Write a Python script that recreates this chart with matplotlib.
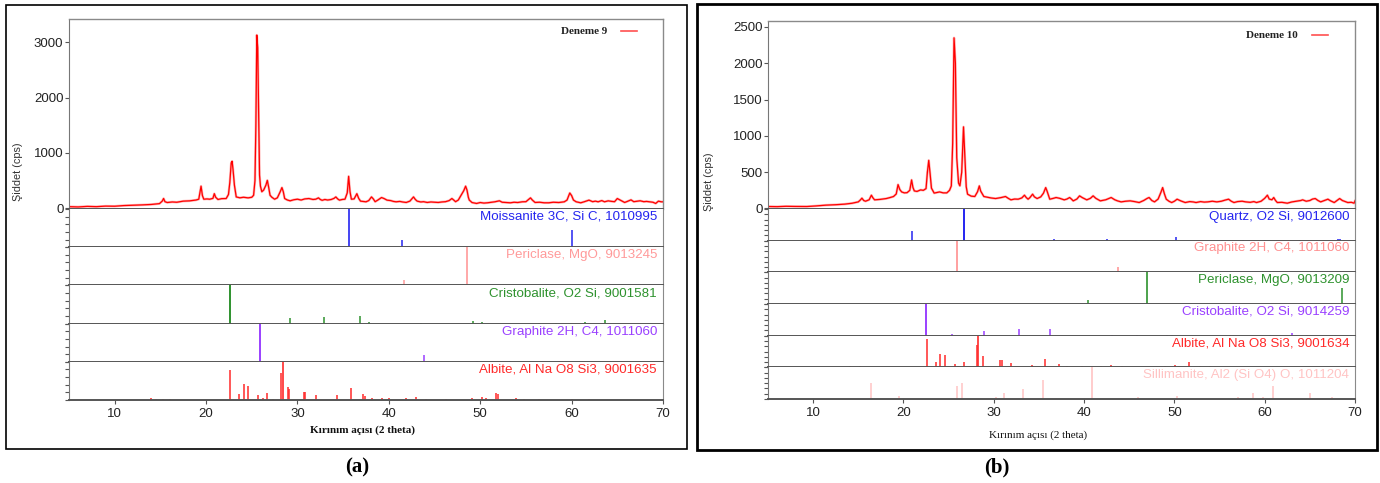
import matplotlib
matplotlib.use("Agg")
import matplotlib.pyplot as plt
from matplotlib.patches import Rectangle
from matplotlib.lines import Line2D

# ---- data ----
# (a) Deneme 9, measured pattern
tt_a = [5.0, 6.0, 7.0, 8.0, 9.0, 10.0, 11.0, 12.0, 13.0, 14.0, 14.9, 15.2, 15.35, 15.5, 15.75,
        16.3, 16.8, 17.5, 18.2, 18.9, 19.2, 19.35, 19.45, 19.6, 19.75, 20.1, 20.4, 20.75, 20.9,
        21.05, 21.3, 21.7, 22.2, 22.45, 22.6, 22.75, 22.85, 22.95, 23.1, 23.3, 23.7, 24.1, 24.6,
        25.0, 25.2, 25.35, 25.45, 25.55, 25.65, 25.75, 25.85, 25.95, 26.1, 26.3, 26.55, 26.7,
        26.85, 27.0, 27.2, 27.5, 27.8, 28.1, 28.3, 28.45, 28.6, 28.9, 29.2, 29.6, 30.0, 30.4,
        30.8, 31.25, 31.7, 32.0, 32.3, 32.5, 32.7, 33.0, 33.3, 33.7, 34.0, 34.2, 34.4, 34.6,
        34.9, 35.2, 35.45, 35.6, 35.75, 35.9, 36.2, 36.5, 36.7, 36.9, 37.2, 37.5, 37.8, 38.1,
        38.3, 38.5, 38.8, 39.2, 39.5, 39.8, 40.2, 40.5, 40.8, 41.2, 41.5, 41.9, 42.3, 42.7,
        42.9, 43.1, 43.5, 43.8, 44.2, 44.6, 45.0, 45.4, 45.8, 46.2, 46.6, 46.9, 47.1, 47.3,
        47.6, 47.9, 48.2, 48.4, 48.55, 48.7, 48.8, 49.1, 49.4, 49.6, 50.0, 50.4, 50.8, 51.2,
        51.6, 52.1, 52.4, 52.8, 53.3, 53.7, 54.1, 54.6, 55.0, 55.3, 55.5, 55.7, 56.0, 56.5,
        57.0, 57.5, 58.0, 58.6, 59.2, 59.5, 59.8, 60.0, 60.2, 60.5, 61.0, 61.4, 61.9, 62.3,
        62.6, 62.9, 63.3, 63.6, 64.0, 64.4, 64.7, 65.0, 65.3, 65.8, 66.1, 66.5, 66.8, 67.2,
        67.5, 67.9, 68.2, 68.5, 68.9, 69.2, 69.5, 69.8, 70.0]
int_a = [30, 25, 35, 30, 40, 38, 50, 55, 62, 70, 85, 130, 178, 120, 105,
         115, 110, 130, 135, 150, 165, 300, 400, 230, 165, 170, 165, 180, 265,
         200, 160, 175, 177, 250, 470, 820, 850, 700, 420, 206, 190, 200, 189,
         200, 236, 500, 1500, 3130, 2900, 1800, 600, 400, 300, 330, 420, 505,
         380, 236, 200, 165, 190, 295, 375, 300, 177, 150, 136, 155, 165, 150,
         170, 177, 160, 165, 189, 160, 145, 160, 150, 160, 180, 206, 170, 148,
         160, 165, 280, 578, 300, 165, 170, 265, 180, 130, 125, 118, 140, 206,
         170, 120, 150, 195, 175, 148, 140, 125, 118, 125, 115, 106, 130, 206,
         160, 130, 115, 120, 106, 115, 110, 106, 115, 120, 140, 177, 150, 120,
         150, 236, 320, 400, 330, 200, 150, 105, 95, 88, 105, 95, 100, 110,
         118, 136, 110, 105, 100, 110, 105, 118, 120, 160, 189, 150, 106, 110,
         100, 100, 110, 105, 118, 150, 277, 230, 150, 118, 100, 120, 148, 120,
         130, 118, 140, 118, 135, 125, 120, 177, 150, 106, 125, 153, 120, 130,
         136, 120, 125, 118, 110, 88, 130, 118, 118]

# (b) Deneme 10, measured pattern
tt_b = [5.1, 6.0, 7.0, 8.0, 9.3, 10.3, 11.4, 12.5, 13.5, 14.3, 15.0, 15.25, 15.4, 15.6, 15.8,
        16.2, 16.45, 16.6, 16.8, 17.4, 18.1, 18.5, 18.9, 19.2, 19.4, 19.6, 19.8, 20.1, 20.4,
        20.7, 20.9, 21.05, 21.2, 21.5, 21.9, 22.2, 22.5, 22.65, 22.8, 22.95, 23.1, 23.4, 24.0,
        24.4, 24.8, 25.1, 25.3, 25.45, 25.6, 25.75, 25.9, 26.1, 26.25, 26.45, 26.65, 26.8,
        26.95, 27.1, 27.5, 27.9, 28.2, 28.4, 28.55, 28.9, 29.3, 29.7, 30.2, 30.8, 31.3, 31.6,
        31.9, 32.3, 32.7, 33.1, 33.4, 33.6, 33.8, 34.0, 34.3, 34.5, 34.8, 35.2, 35.5, 35.75,
        35.9, 36.2, 36.6, 36.9, 37.3, 37.8, 38.1, 38.4, 38.6, 38.8, 39.2, 39.5, 39.8, 40.3,
        40.7, 41.0, 41.3, 41.8, 42.4, 43.0, 43.4, 43.7, 44.1, 44.6, 45.1, 45.6, 46.1, 46.6,
        47.0, 47.2, 47.5, 47.8, 48.2, 48.5, 48.7, 48.9, 49.1, 49.4, 49.7, 50.0, 50.3, 50.7,
        51.2, 51.7, 52.1, 52.4, 52.9, 53.3, 53.7, 54.2, 54.7, 55.2, 55.6, 56.0, 56.3, 56.6,
        57.0, 57.5, 57.9, 58.4, 58.8, 59.1, 59.6, 60.0, 60.3, 60.5, 60.8, 61.0, 61.2, 61.4,
        61.9, 62.5, 63.0, 63.5, 64.0, 64.2, 64.6, 65.0, 65.3, 65.6, 65.9, 66.2, 66.6, 67.0,
        67.3, 67.7, 68.0, 68.3, 68.6, 69.2, 69.6, 69.9, 70.0]
int_b = [27, 25, 30, 28, 27, 35, 46, 52, 60, 72, 91, 120, 142, 110, 100,
         120, 183, 150, 119, 125, 137, 150, 165, 200, 329, 260, 228, 215, 218,
         250, 393, 290, 242, 235, 256, 250, 274, 500, 663, 480, 280, 212, 228,
         215, 215, 250, 311, 900, 2350, 2000, 700, 350, 312, 500, 1124, 700,
         300, 197, 170, 165, 230, 311, 240, 165, 155, 145, 137, 150, 165, 140,
         119, 130, 128, 145, 183, 150, 128, 150, 197, 160, 137, 160, 210, 288,
         240, 128, 140, 151, 140, 119, 130, 151, 130, 105, 130, 174, 150, 119,
         140, 174, 140, 105, 120, 151, 120, 105, 91, 100, 105, 95, 82, 110,
         140, 151, 110, 91, 130, 220, 288, 200, 128, 100, 82, 100, 128, 105,
         82, 95, 90, 82, 95, 88, 91, 100, 91, 100, 115, 128, 100, 82,
         95, 100, 91, 85, 95, 82, 100, 140, 183, 130, 120, 151, 110, 82,
         85, 73, 90, 100, 110, 119, 100, 110, 130, 137, 110, 91, 110, 128,
         105, 82, 110, 137, 110, 82, 85, 73, 105]

# reference phases (2theta, relative intensity %)
moissanite_pos = [35.6, 41.4, 60.0]
moissanite_rel = [100, 20, 44]
periclase_a_pos = [41.7, 48.5]
periclase_a_rel = [15, 100]
cristobalite_a_pos = [22.6, 29.2, 32.9, 36.8, 37.8, 43.5, 49.2, 50.2, 56.4, 58.3, 61.5, 63.6]
cristobalite_a_rel = [100, 14, 17, 19, 3, 2, 8, 3, 2, 2, 3, 10]
graphite_a_pos = [25.9, 41.7, 43.9, 49.7, 53.3, 58.6]
graphite_a_rel = [100, 2, 17, 2, 3, 3]
albite_a_pos = [14.0, 14.5, 15.3, 16.1, 22.6, 23.6, 24.2, 24.6, 25.7, 26.2, 26.7, 27.3, 28.2,
                28.4, 29.0, 29.1, 30.7, 30.8, 32.0, 34.3, 35.9, 37.2, 37.4, 38.2, 39.2, 40.0,
                41.9, 43.0, 44.1, 46.3, 49.1, 50.2, 50.6, 51.7, 51.9, 53.9, 54.8, 56.4, 60.0, 61.9]
albite_a_rel = [4, 2, 2, 2, 79, 17, 42, 37, 12, 5, 18, 2, 70,
                100, 35, 28, 22, 20, 13, 12, 31, 15, 10, 4, 4, 6,
                4, 8, 3, 2, 5, 8, 5, 18, 15, 5, 3, 3, 2, 2]

quartz_pos = [21.0, 26.7, 36.7, 39.4, 40.3, 42.5, 45.8, 50.2, 55.3, 57.6, 60.0, 63.9, 68.1, 68.3]
quartz_rel = [30, 100, 6, 3, 3, 5, 2, 12, 2, 2, 3, 2, 5, 4]
graphite_b_pos = [25.9, 41.7, 43.8, 53.2]
graphite_b_rel = [100, 2, 17, 2]
periclase_b_pos = [40.4, 47.0, 68.6]
periclase_b_rel = [12, 100, 49]
cristobalite_b_pos = [22.5, 25.4, 28.9, 32.8, 36.2, 43.1, 45.9, 49.2, 49.7, 56.2, 60.6, 63.0,
                      64.7, 67.8, 69.6]
cristobalite_b_rel = [100, 4, 15, 20, 20, 2, 2, 3, 3, 2, 2, 8, 2, 2, 2]
albite_b_pos = [14.1, 15.2, 22.6, 23.6, 24.0, 24.6, 25.7, 26.0, 26.7, 28.1, 28.3, 28.8, 30.7,
                30.9, 31.9, 34.2, 34.3, 35.7, 37.2, 38.1, 39.8, 41.9, 43.0, 44.2, 49.0, 50.1,
                50.5, 51.6, 52.8, 53.9, 54.8]
albite_b_rel = [5, 3, 90, 17, 42, 38, 10, 5, 16, 70, 100, 35, 22,
                22, 13, 8, 4, 25, 10, 4, 5, 4, 6, 4, 5, 6,
                5, 18, 3, 3, 2]
sillimanite_pos = [16.4, 19.5, 25.9, 26.5, 30.3, 31.1, 33.2, 35.4, 36.9, 40.9, 46.0, 50.3, 57.0,
                   58.7, 59.8, 60.9, 65.0, 67.5]
sillimanite_rel = [50, 10, 40, 52, 5, 20, 32, 61, 3, 100, 5, 8, 6, 18, 5, 40, 20, 5]

W, H = 1380, 483
SANS = ["Liberation Sans", "DejaVu Sans"]
SERIF = ["Liberation Serif", "DejaVu Serif"]

fig = plt.figure(figsize=(W / 100, H / 100), dpi=100)


def px_axes(left, top, right, bottom):
    return fig.add_axes([left / W, 1 - bottom / H, (right - left) / W, (bottom - top) / H])


def draw_panel(box, left, right, top, main_bottom, strip_bottom, tt, inten, ylim, yticks,
               phases, n_strip_ticks, legend_txt, legend_x, legend_y, xlabel_bold, xlabel_x,
               xlabel_y, ylabel_y, panel_label, panel_x):
    # outer frame
    fig.patches.append(Rectangle((box[0] / W, 1 - box[3] / H), (box[2] - box[0]) / W,
                                 (box[3] - box[1]) / H, transform=fig.transFigure,
                                 fill=False, ec="black", lw=box[4]))

    ax = px_axes(left, top, right, main_bottom)
    ax.plot(tt, inten, color="#ffb4b4", lw=1.8, solid_joinstyle="round")
    ax.plot(tt, inten, color="#ff0000", lw=0.9)
    ax.set_xlim(5, 70)
    ax.set_ylim(*ylim)
    ax.set_yticks(yticks)
    ax.set_xticks([])
    ax.tick_params(axis="y", direction="out", length=3, width=0.8, color="#555",
                   labelsize=9.5, labelcolor="#222", pad=1)
    for lab in ax.get_yticklabels():
        lab.set_fontfamily(SANS)
    for s in ["top", "right"]:
        ax.spines[s].set_color("#8a8a8a")
        ax.spines[s].set_linewidth(1.0)
    ax.spines["left"].set_color("#777")
    ax.spines["bottom"].set_color("#555")
    ax.spines["bottom"].set_linewidth(1.4)

    n = len(phases)
    h = (strip_bottom - main_bottom) / n
    for i, (name, pos, rel, col, lw_main) in enumerate(phases):
        sax = px_axes(left, main_bottom + i * h, right, main_bottom + (i + 1) * h)
        main = [p for p, r in zip(pos, rel) if r >= 100]
        minor_p = [p for p, r in zip(pos, rel) if r < 100]
        minor_r = [r for r in rel if r < 100]
        sax.vlines(minor_p, 0, minor_r, color=col, lw=1.1)
        sax.vlines(main, 0, 100, color=col, lw=lw_main)
        sax.set_xlim(5, 70)
        sax.set_ylim(0, 100)
        sax.set_yticks([k * 100 / n_strip_ticks for k in range(n_strip_ticks + 1)])
        sax.set_yticklabels([])
        sax.tick_params(axis="y", direction="out", length=3, width=0.8, color="#555")
        sax.spines["top"].set_visible(False)
        sax.spines["left"].set_color("#777")
        sax.spines["right"].set_color("#8a8a8a")
        sax.spines["bottom"].set_color("#555")
        sax.spines["bottom"].set_linewidth(1.4)
        sax.text(0.99, 0.95, name, transform=sax.transAxes, ha="right", va="top",
                 color=col, fontsize=9.6, family=SANS)
        if i < n - 1:
            sax.set_xticks([])
        else:
            sax.set_xticks(range(10, 71, 10))
            sax.tick_params(axis="x", direction="out", length=3, width=0.8, color="#555",
                            labelsize=9.5, labelcolor="#222", pad=3)
            for lab in sax.get_xticklabels():
                lab.set_fontfamily(SANS)

    # legend
    fig.text(legend_x / W, 1 - legend_y / H, legend_txt, ha="right", va="center",
             fontsize=8, fontweight="bold", family=SERIF, color="#222")
    fig.add_artist(Line2D([(legend_x + 14) / W, (legend_x + 30) / W],
                          [1 - legend_y / H, 1 - legend_y / H],
                          transform=fig.transFigure, color="#ff5050", lw=1.2))
    # axis labels
    fig.text(xlabel_x / W, 1 - xlabel_y / H, "Kırınım açısı (2 theta)",
             ha="center", va="center", fontsize=8,
             fontweight="bold" if xlabel_bold else "normal", family=SERIF, color="#111")
    fig.text((box[0] + 12) / W, 1 - ylabel_y / H, "Şiddet (cps)", rotation=90,
             ha="center", va="center", fontsize=7.8, family=SANS, color="#333")
    fig.text(panel_x / W, 1 - 467 / H, panel_label, ha="center", va="center",
             fontsize=15, fontweight="bold", family=SERIF)


draw_panel(box=(6, 5, 687, 449, 1.2), left=69, right=663, top=19, main_bottom=209,
           strip_bottom=400, tt=tt_a, inten=int_a, ylim=(-12, 3420),
           yticks=[0, 1000, 2000, 3000],
           phases=[("Moissanite 3C, Si C, 1010995", moissanite_pos, moissanite_rel, "#2525f0", 1.2),
                   ("Periclase, MgO, 9013245", periclase_a_pos, periclase_a_rel, "#ff9a9a", 1.2),
                   ("Cristobalite, O2 Si, 9001581", cristobalite_a_pos, cristobalite_a_rel, "#2e922e", 1.4),
                   ("Graphite 2H, C4, 1011060", graphite_a_pos, graphite_a_rel, "#9a40ff", 1.4),
                   ("Albite, Al Na O8 Si3, 9001635", albite_a_pos, albite_a_rel, "#ff2a2a", 1.2)],
           n_strip_ticks=5, legend_txt="Deneme 9", legend_x=607, legend_y=31,
           xlabel_bold=True, xlabel_x=363, xlabel_y=430, ylabel_y=172,
           panel_label="(a)", panel_x=357)

draw_panel(box=(697, 4, 1377, 450, 2.0), left=768, right=1355, top=21, main_bottom=209,
           strip_bottom=399, tt=tt_b, inten=int_b, ylim=(-7, 2582),
           yticks=[0, 500, 1000, 1500, 2000, 2500],
           phases=[("Quartz, O2 Si, 9012600", quartz_pos, quartz_rel, "#2525f0", 1.4),
                   ("Graphite 2H, C4, 1011060", graphite_b_pos, graphite_b_rel, "#ff9090", 1.2),
                   ("Periclase, MgO, 9013209", periclase_b_pos, periclase_b_rel, "#2e922e", 1.2),
                   ("Cristobalite, O2 Si, 9014259", cristobalite_b_pos, cristobalite_b_rel, "#9a40ff", 1.4),
                   ("Albite, Al Na O8 Si3, 9001634", albite_b_pos, albite_b_rel, "#ff2a2a", 1.2),
                   ("Sillimanite, Al2 (Si O4) O, 1011204", sillimanite_pos, sillimanite_rel, "#ffc4c4", 1.2)],
           n_strip_ticks=6, legend_txt="Deneme 10", legend_x=1298, legend_y=35,
           xlabel_bold=False, xlabel_x=1038, xlabel_y=435, ylabel_y=182,
           panel_label="(b)", panel_x=997)

fig.savefig("out.png", dpi=100)
